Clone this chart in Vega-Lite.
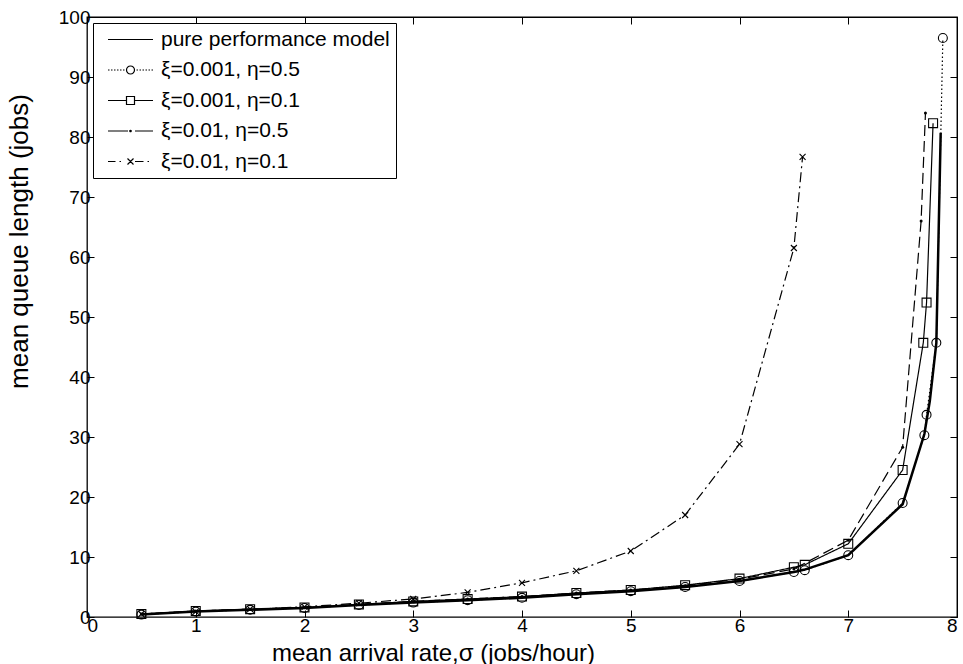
{
  "$schema": "https://vega.github.io/schema/vega-lite/v6.json",
  "width": 870,
  "height": 600,
  "autosize": {"type": "none"},
  "padding": {"left": 87, "top": 17, "right": 6, "bottom": 47},
  "background": "white",
  "config": {
    "view": {"stroke": "black", "strokeWidth": 1.3},
    "font": "Liberation Sans",
    "axis": {
      "grid": false,
      "domain": false,
      "ticks": true,
      "tickColor": "black",
      "tickWidth": 1,
      "tickSize": -7,
      "labelColor": "black",
      "labelFont": "Liberation Sans",
      "labelFontSize": 19,
      "titleColor": "black",
      "titleFont": "Liberation Sans",
      "titleFontSize": 24,
      "titleFontWeight": "normal"
    }
  },
  "datasets": {
    "queue": [
      {"series": "pure performance model", "x": 0.5, "y": 0.4},
      {"series": "pure performance model", "x": 1, "y": 0.9},
      {"series": "pure performance model", "x": 1.5, "y": 1.2},
      {"series": "pure performance model", "x": 2, "y": 1.5},
      {"series": "pure performance model", "x": 2.5, "y": 2.0},
      {"series": "pure performance model", "x": 3, "y": 2.4},
      {"series": "pure performance model", "x": 3.5, "y": 2.8},
      {"series": "pure performance model", "x": 4, "y": 3.2},
      {"series": "pure performance model", "x": 4.5, "y": 3.8},
      {"series": "pure performance model", "x": 5, "y": 4.3},
      {"series": "pure performance model", "x": 5.5, "y": 5.0},
      {"series": "pure performance model", "x": 6, "y": 6.0},
      {"series": "pure performance model", "x": 6.5, "y": 7.5},
      {"series": "pure performance model", "x": 6.6, "y": 7.9},
      {"series": "pure performance model", "x": 7, "y": 10.3},
      {"series": "pure performance model", "x": 7.5, "y": 18.8},
      {"series": "pure performance model", "x": 7.7, "y": 30.5},
      {"series": "pure performance model", "x": 7.75, "y": 36},
      {"series": "pure performance model", "x": 7.81, "y": 45.7},
      {"series": "pure performance model", "x": 7.85, "y": 80.7},

      {"series": "ξ=0.001, η=0.5", "x": 0.5, "y": 0.4},
      {"series": "ξ=0.001, η=0.5", "x": 1, "y": 0.9},
      {"series": "ξ=0.001, η=0.5", "x": 1.5, "y": 1.2},
      {"series": "ξ=0.001, η=0.5", "x": 2, "y": 1.5},
      {"series": "ξ=0.001, η=0.5", "x": 2.5, "y": 2.0},
      {"series": "ξ=0.001, η=0.5", "x": 3, "y": 2.4},
      {"series": "ξ=0.001, η=0.5", "x": 3.5, "y": 2.8},
      {"series": "ξ=0.001, η=0.5", "x": 4, "y": 3.2},
      {"series": "ξ=0.001, η=0.5", "x": 4.5, "y": 3.8},
      {"series": "ξ=0.001, η=0.5", "x": 5, "y": 4.3},
      {"series": "ξ=0.001, η=0.5", "x": 5.5, "y": 5.0},
      {"series": "ξ=0.001, η=0.5", "x": 6, "y": 6.0},
      {"series": "ξ=0.001, η=0.5", "x": 6.5, "y": 7.5},
      {"series": "ξ=0.001, η=0.5", "x": 6.6, "y": 7.8},
      {"series": "ξ=0.001, η=0.5", "x": 7, "y": 10.3},
      {"series": "ξ=0.001, η=0.5", "x": 7.5, "y": 19.0},
      {"series": "ξ=0.001, η=0.5", "x": 7.7, "y": 30.3},
      {"series": "ξ=0.001, η=0.5", "x": 7.72, "y": 33.7},
      {"series": "ξ=0.001, η=0.5", "x": 7.81, "y": 45.7},
      {"series": "ξ=0.001, η=0.5", "x": 7.87, "y": 96.5},

      {"series": "ξ=0.001, η=0.1", "x": 0.5, "y": 0.5},
      {"series": "ξ=0.001, η=0.1", "x": 1, "y": 1.0},
      {"series": "ξ=0.001, η=0.1", "x": 1.5, "y": 1.3},
      {"series": "ξ=0.001, η=0.1", "x": 2, "y": 1.6},
      {"series": "ξ=0.001, η=0.1", "x": 2.5, "y": 2.1},
      {"series": "ξ=0.001, η=0.1", "x": 3, "y": 2.6},
      {"series": "ξ=0.001, η=0.1", "x": 3.5, "y": 3.0},
      {"series": "ξ=0.001, η=0.1", "x": 4, "y": 3.4},
      {"series": "ξ=0.001, η=0.1", "x": 4.5, "y": 4.0},
      {"series": "ξ=0.001, η=0.1", "x": 5, "y": 4.5},
      {"series": "ξ=0.001, η=0.1", "x": 5.5, "y": 5.3},
      {"series": "ξ=0.001, η=0.1", "x": 6, "y": 6.4},
      {"series": "ξ=0.001, η=0.1", "x": 6.5, "y": 8.3},
      {"series": "ξ=0.001, η=0.1", "x": 6.6, "y": 8.7},
      {"series": "ξ=0.001, η=0.1", "x": 7, "y": 12.2},
      {"series": "ξ=0.001, η=0.1", "x": 7.5, "y": 24.5},
      {"series": "ξ=0.001, η=0.1", "x": 7.69, "y": 45.7},
      {"series": "ξ=0.001, η=0.1", "x": 7.72, "y": 52.4},
      {"series": "ξ=0.001, η=0.1", "x": 7.78, "y": 82.3},

      {"series": "ξ=0.01, η=0.5", "x": 0.5, "y": 0.5},
      {"series": "ξ=0.01, η=0.5", "x": 1, "y": 1.0},
      {"series": "ξ=0.01, η=0.5", "x": 1.5, "y": 1.3},
      {"series": "ξ=0.01, η=0.5", "x": 2, "y": 1.6},
      {"series": "ξ=0.01, η=0.5", "x": 2.5, "y": 2.1},
      {"series": "ξ=0.01, η=0.5", "x": 3, "y": 2.6},
      {"series": "ξ=0.01, η=0.5", "x": 3.5, "y": 3.0},
      {"series": "ξ=0.01, η=0.5", "x": 4, "y": 3.4},
      {"series": "ξ=0.01, η=0.5", "x": 4.5, "y": 4.0},
      {"series": "ξ=0.01, η=0.5", "x": 5, "y": 4.5},
      {"series": "ξ=0.01, η=0.5", "x": 5.5, "y": 5.2},
      {"series": "ξ=0.01, η=0.5", "x": 6, "y": 6.3},
      {"series": "ξ=0.01, η=0.5", "x": 6.5, "y": 8.0},
      {"series": "ξ=0.01, η=0.5", "x": 7, "y": 12.8},
      {"series": "ξ=0.01, η=0.5", "x": 7.5, "y": 28.3},
      {"series": "ξ=0.01, η=0.5", "x": 7.67, "y": 66},
      {"series": "ξ=0.01, η=0.5", "x": 7.71, "y": 84},

      {"series": "ξ=0.01, η=0.1", "x": 0.5, "y": 0.5},
      {"series": "ξ=0.01, η=0.1", "x": 1, "y": 0.9},
      {"series": "ξ=0.01, η=0.1", "x": 1.5, "y": 1.3},
      {"series": "ξ=0.01, η=0.1", "x": 2, "y": 1.7},
      {"series": "ξ=0.01, η=0.1", "x": 2.5, "y": 2.3},
      {"series": "ξ=0.01, η=0.1", "x": 3, "y": 3.0},
      {"series": "ξ=0.01, η=0.1", "x": 3.5, "y": 4.1},
      {"series": "ξ=0.01, η=0.1", "x": 4, "y": 5.7},
      {"series": "ξ=0.01, η=0.1", "x": 4.5, "y": 7.7},
      {"series": "ξ=0.01, η=0.1", "x": 5, "y": 11.0},
      {"series": "ξ=0.01, η=0.1", "x": 5.5, "y": 17.0},
      {"series": "ξ=0.01, η=0.1", "x": 6, "y": 28.8},
      {"series": "ξ=0.01, η=0.1", "x": 6.5, "y": 61.5},
      {"series": "ξ=0.01, η=0.1", "x": 6.58, "y": 76.7}
    ],
    "series_names": [
      {"series": "pure performance model"},
      {"series": "ξ=0.001, η=0.5"},
      {"series": "ξ=0.001, η=0.1"},
      {"series": "ξ=0.01, η=0.5"},
      {"series": "ξ=0.01, η=0.1"}
    ]
  },
  "data": {"name": "queue"},
  "layer": [
    {
      "transform": [{"filter": "datum.series !== 'pure performance model'"}],
      "mark": {"type": "line", "color": "black", "clip": true, "strokeWidth": 1.2},
      "encoding": {
        "x": {
          "field": "x", "type": "quantitative",
          "scale": {"domain": [0, 8], "nice": false, "zero": false},
          "axis": {"orient": "bottom", "values": [0, 1, 2, 3, 4, 5, 6, 7, 8], "format": "d", "labelPadding": 6, "title": "mean arrival rate,σ (jobs/hour)", "titleX": 346, "titleY": 43, "titleBaseline": "alphabetic"}
        },
        "y": {
          "field": "y", "type": "quantitative",
          "scale": {"domain": [0, 100], "nice": false, "zero": false},
          "axis": {"orient": "left", "values": [0, 10, 20, 30, 40, 50, 60, 70, 80, 90, 100], "format": "d", "labelPadding": 4, "title": "mean queue length (jobs)", "titleFontSize": 26, "titleX": -68, "titleY": 224, "titleBaseline": "middle"}
        },
        "strokeDash": {
          "field": "series", "type": "nominal", "legend": null,
          "scale": {
            "domain": ["ξ=0.01, η=0.1", "ξ=0.01, η=0.5", "ξ=0.001, η=0.1", "ξ=0.001, η=0.5"],
            "range": [[10, 4, 2, 4], [11, 5], [1, 0], [1.5, 2.5]]
          }
        }
      }
    },
    {
      "transform": [{"filter": "datum.series === 'pure performance model'"}],
      "mark": {"type": "line", "color": "black", "clip": true, "strokeWidth": 2.5},
      "encoding": {
        "x": {"field": "x", "type": "quantitative", "axis": null},
        "y": {"field": "y", "type": "quantitative", "axis": null}
      }
    },
    {
      "transform": [{"filter": "datum.series === 'ξ=0.001, η=0.5'"}],
      "mark": {"type": "point", "shape": "circle", "size": 80, "filled": false, "color": "black", "strokeWidth": 1.1, "opacity": 1},
      "encoding": {
        "x": {"field": "x", "type": "quantitative", "axis": null},
        "y": {"field": "y", "type": "quantitative", "axis": null}
      }
    },
    {
      "transform": [{"filter": "datum.series === 'ξ=0.001, η=0.1'"}],
      "mark": {"type": "point", "shape": "square", "size": 80, "filled": false, "color": "black", "strokeWidth": 1.1, "opacity": 1},
      "encoding": {
        "x": {"field": "x", "type": "quantitative", "axis": null},
        "y": {"field": "y", "type": "quantitative", "axis": null}
      }
    },
    {
      "transform": [{"filter": "datum.series === 'ξ=0.01, η=0.5'"}],
      "mark": {"type": "point", "shape": "circle", "size": 9, "filled": true, "color": "black", "opacity": 1},
      "encoding": {
        "x": {"field": "x", "type": "quantitative", "axis": null},
        "y": {"field": "y", "type": "quantitative", "axis": null}
      }
    },
    {
      "transform": [{"filter": "datum.series === 'ξ=0.01, η=0.1'"}],
      "mark": {"type": "point", "shape": "M-1,-1L1,1M-1,1L1,-1", "size": 36, "filled": false, "color": "black", "strokeWidth": 1.1, "opacity": 1},
      "encoding": {
        "x": {"field": "x", "type": "quantitative", "axis": null},
        "y": {"field": "y", "type": "quantitative", "axis": null}
      }
    },
    {
      "data": {"name": "series_names"},
      "mark": {"type": "point", "filled": false, "color": "black", "opacity": 1},
      "encoding": {
        "x": {"field": "x", "type": "quantitative", "axis": {"orient": "top", "values": [0, 1, 2, 3, 4, 5, 6, 7, 8], "labels": false, "title": null, "ticks": true, "domain": true, "domainColor": "black", "tickColor": "black", "tickSize": -7}},
        "y": {"field": "y", "type": "quantitative", "axis": {"orient": "right", "values": [0, 10, 20, 30, 40, 50, 60, 70, 80, 90, 100], "labels": false, "title": null, "ticks": true, "domain": true, "domainColor": "black", "tickColor": "black", "tickSize": -7}},
        "shape": {
          "field": "series", "type": "nominal",
          "scale": {
            "domain": ["pure performance model", "ξ=0.001, η=0.5", "ξ=0.001, η=0.1", "ξ=0.01, η=0.5", "ξ=0.01, η=0.1"],
            "range": [
              "M-4.5,0H4.5",
              "M-4.5,0H-4.2M-3.9,0H-3.6M-3.3,0H-3.0M-2.7,0H-2.4M-2.1,0H-1.8M-1.5,0H-1.2M1.2,0H1.5M1.8,0H2.1M2.4,0H2.7M3.0,0H3.3M3.6,0H3.9M4.2,0H4.5M-0.8,0A0.8,0.8 0 1,1 0.8,0A0.8,0.8 0 1,1 -0.8,0Z",
              "M-4.5,0H-0.8M0.8,0H4.5M-0.8,-0.8H0.8V0.8H-0.8Z",
              "M-4.5,0H-0.5M0.9,0H4.5M-0.15,0A0.15,0.15 0 1,1 0.15,0A0.15,0.15 0 1,1 -0.15,0Z",
              "M-4.5,0H-3.0M-2.2,0H-1.9M0.9,0H2.6M3.4,0H3.7M-0.6,-0.6L0.6,0.6M-0.6,0.6L0.6,-0.6"
            ]
          },
          "legend": {
            "orient": "top-left", "offset": 6, "title": null, "padding": 6,
            "strokeColor": "black", "fillColor": "white", "cornerRadius": 0,
            "labelFont": "Liberation Sans", "labelFontSize": 21, "labelColor": "black", "labelLimit": 400,
            "symbolSize": 100, "symbolStrokeWidth": 1.2, "symbolStrokeColor": "black", "symbolFillColor": "transparent",
            "symbolOffset": 21, "labelOffset": 20, "rowPadding": 8.5
          }
        }
      }
    }
  ],
  "resolve": {"axis": {"x": "independent", "y": "independent"}}
}
